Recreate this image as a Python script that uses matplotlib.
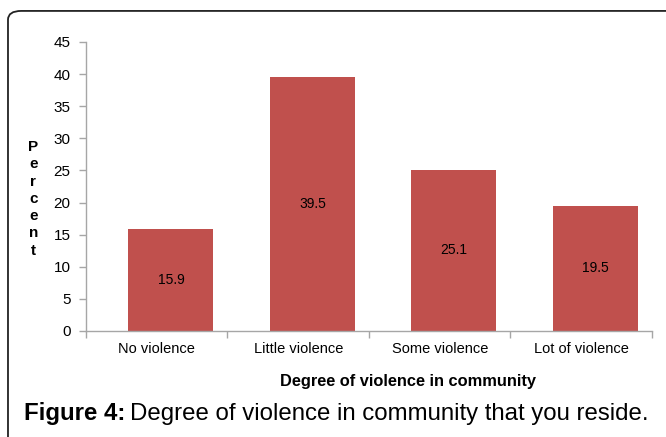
import matplotlib.pyplot as plt
from matplotlib.patches import FancyBboxPatch

plt.rcParams['font.family'] = ['Liberation Sans', 'DejaVu Sans']

categories = ['No violence', 'Little violence', 'Some violence', 'Lot of violence']
percent = [15.9, 39.5, 25.1, 19.5]
yticks = [0, 5, 10, 15, 20, 25, 30, 35, 40, 45]

bar_color = '#C0504D'
axis_gray = '#A6A6A6'

fig = plt.figure(figsize=(6.66, 4.37), dpi=100)
ax = fig.add_axes([0.1291, 0.2426, 0.8498, 0.6613])

x = list(range(len(categories)))
# bars sit a little right of the category centre (second series slot left empty)
bar_x = [xi + 0.1 for xi in x]
ax.bar(bar_x, percent, width=0.6, color=bar_color, zorder=2)
for bx, v in zip(bar_x, percent):
    ax.text(bx, v / 2, f'{v}', ha='center', va='center', fontsize=10, color='black')

ax.set_xlim(-0.5, len(categories) - 0.5)
ax.set_ylim(0, 45)
ax.set_yticks(yticks)
ax.tick_params(axis='y', labelsize=11, length=5, color=axis_gray, width=1, pad=6)

# category labels centred, tick marks on the boundaries
ax.set_xticks(x)
ax.set_xticklabels(categories, fontsize=10.5)
ax.tick_params(axis='x', which='major', length=0, pad=8)
ax.set_xticks([i - 0.5 for i in range(len(categories) + 1)], minor=True)
ax.tick_params(axis='x', which='minor', length=5, color=axis_gray, width=1)

for side in ['top', 'right']:
    ax.spines[side].set_visible(False)
for side in ['left', 'bottom']:
    ax.spines[side].set_color(axis_gray)
    ax.spines[side].set_linewidth(1)

# stacked vertical axis title
fig.text(0.050, 0.545, '\n'.join('Percent'), ha='center', va='center',
         fontsize=11, fontweight='bold', linespacing=1.3)
fig.text(0.613, 0.127, 'Degree of violence in community', ha='center', va='center',
         fontsize=11.8, fontweight='bold')

# caption: bold label followed by plain text on a shared baseline
cap_y = 0.038
t1 = fig.text(0.036, cap_y, 'Figure 4:', ha='left', va='baseline', fontsize=17.3,
              fontweight='bold')
fig.canvas.draw()
bb = t1.get_window_extent()
x2 = (bb.x1 + 5) / fig.bbox.width
fig.text(x2, cap_y, 'Degree of violence in community that you reside.', ha='left',
         va='baseline', fontsize=17.3)

# frame around the figure panel
frame = FancyBboxPatch((0.012, -0.2), 1.2, 1.175, boxstyle='round,pad=0,rounding_size=0.02',
                       transform=fig.transFigure, fill=False, edgecolor='#222222',
                       linewidth=1.3, clip_on=False)
fig.patches.append(frame)

fig.savefig('out.png', dpi=100)
